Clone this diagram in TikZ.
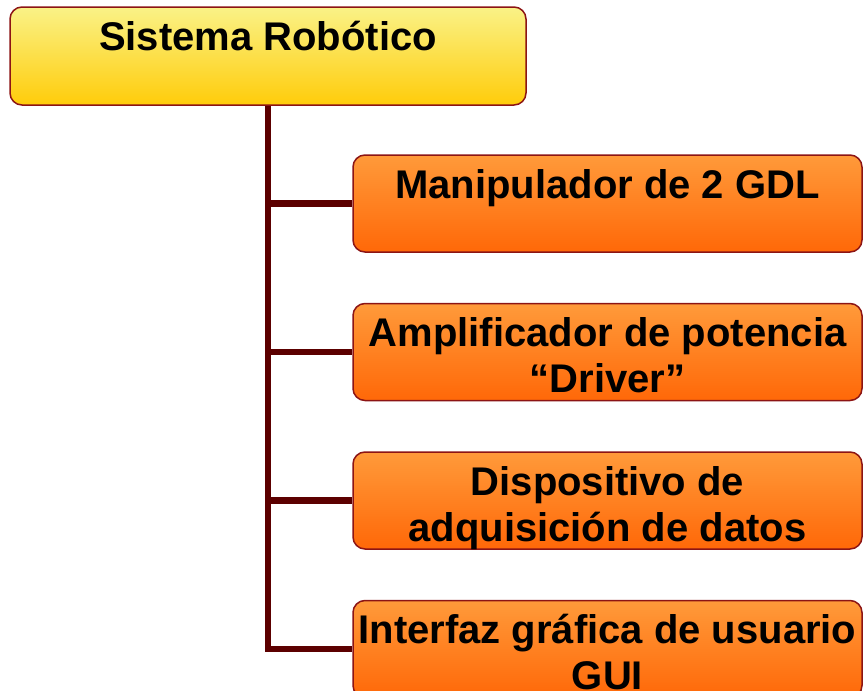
\documentclass[tikz,border=0pt]{standalone}
\usepackage{fontspec}
\setmainfont{Liberation Sans}
\usetikzlibrary{positioning}
\usetikzlibrary{backgrounds}

\definecolor{boxedge}{RGB}{140,20,20}
\definecolor{linkred}{RGB}{92,0,0}
\definecolor{sysTop}{RGB}{250,242,135}
\definecolor{sysBot}{RGB}{255,204,10}
\definecolor{subTop}{RGB}{255,154,58}
\definecolor{subBot}{RGB}{255,104,8}

\newcommand{\boxlines}[1]{\parbox[c][48.5pt][t]{252pt}{\centering\rule{0pt}{21.5pt}#1}}

\begin{document}
\begin{tikzpicture}[x=0.5pt, y=-0.5pt,
every node/.style={inner sep=0pt, font=\fontsize{20pt}{23pt}\selectfont\bfseries},
topbox/.style={draw=boxedge, line width=0.75pt, rounded corners=6pt,
               top color=sysTop, bottom color=sysBot,
               minimum width=258pt, minimum height=49pt},
subbox/.style={draw=boxedge, line width=0.75pt, rounded corners=6pt,
               top color=subTop, bottom color=subBot,
               minimum width=254.5pt, minimum height=48.5pt},
link/.style={draw=linkred, line width=3.3pt},
]

	\useasboundingbox (0,0) rectangle (863,691);
	\clip (0,0) rectangle (863,691);

	\node[topbox] (sys) at (268,56) {\boxlines{Sistema Robótico}}; % root
	
	\node[subbox] (man) at (607.5,203.5) {\boxlines{Manipulador de 2 GDL}};
	\node[subbox, below=25pt of man] (amp) {\boxlines{Amplificador de potencia\\“Driver”}};
	\node[subbox, below=25pt of amp] (daq) {\boxlines{Dispositivo de\\adquisición de datos}};
	\node[subbox, below=25pt of daq] (gui) {\boxlines{Interfaz gráfica de usuario\\GUI}};

	\begin{scope}[on background layer]
	\draw[link] (sys.south) |- (gui.west); % trunk
	\draw[link] (sys.south |- man.west) -- (man.west);
	\draw[link] (sys.south |- amp.west) -- (amp.west);
	\draw[link] (sys.south |- daq.west) -- (daq.west);
	\end{scope}

\end{tikzpicture}
\end{document}
